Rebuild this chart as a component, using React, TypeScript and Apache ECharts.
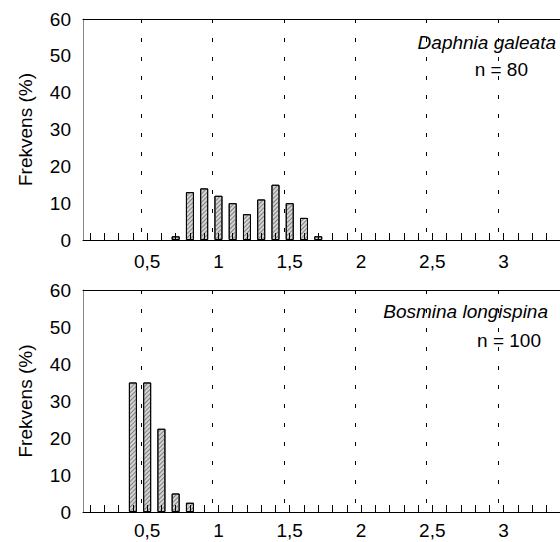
import React, { useEffect, useRef } from "react";
import * as echarts from "echarts";

const categories = [
  "0,1", "0,2", "0,3", "0,4", "0,5", "0,6", "0,7", "0,8", "0,9", "1",
  "1,1", "1,2", "1,3", "1,4", "1,5", "1,6", "1,7", "1,8", "1,9", "2",
  "2,1", "2,2", "2,3", "2,4", "2,5", "2,6", "2,7", "2,8", "2,9", "3",
  "3,1", "3,2", "3,3", "3,4", "3,5",
];
const shownTickLabels = ["0,5", "1", "1,5", "2", "2,5", "3"];

const daphniaBins = ["0,7", "0,8", "0,9", "1", "1,1", "1,2", "1,3", "1,4", "1,5", "1,6", "1,7"];
const daphniaPct = [1, 13, 14, 12, 10, 7, 11, 15, 10, 6, 1];

const bosminaBins = ["0,4", "0,5", "0,6", "0,7", "0,8"];
const bosminaPct = [35, 35, 22.5, 5, 2.5];

const dashedLinePositions = [0.46, 0.96, 1.46, 1.96, 2.46, 2.96];

const panels = [
  { title: "Daphnia galeata", n: "n = 80", bins: daphniaBins, pct: daphniaPct },
  { title: "Bosmina longispina", n: "n = 100", bins: bosminaBins, pct: bosminaPct },
];

const FONT = "Liberation Sans, Arial, sans-serif";
const FS = 19;

export default function App() {
  const ref = useRef<HTMLDivElement>(null);
  useEffect(() => {
    if (!ref.current) return;
    const chart = echarts.init(ref.current, null, { renderer: "svg" });
    const grids = [
      { left: 83, top: 19, width: 499, height: 221, outerBoundsMode: "none", containLabel: false },
      { left: 83, top: 290, width: 499, height: 222, outerBoundsMode: "none", containLabel: false },
    ];
    const xAxis: any[] = [];
    const yAxis: any[] = [];
    const series: any[] = [];
    panels.forEach((p, i) => {
      xAxis.push({
        type: "category",
        gridIndex: i,
        data: categories,
        position: "bottom",
        z: 5,
        axisLine: { show: true, lineStyle: { color: "#000", width: 1 } },
        axisTick: {
          show: true,
          inside: true,
          length: 7,
          interval: 0,
          alignWithLabel: true,
          lineStyle: { color: "#000", width: 1 },
        },
        axisLabel: {
          interval: (_idx: number, val: string) => shownTickLabels.includes(val),
          color: "#000",
          fontSize: FS,
          lineHeight: 17,
          fontFamily: FONT,
          margin: i === 0 ? 13 : 10,
        },
        splitLine: { show: false },
      });
      xAxis.push({
        type: "value",
        gridIndex: i,
        position: "top",
        min: 0.05,
        max: 3.55,
        axisLine: { show: true, lineStyle: { color: "#000", width: 1 } },
        axisTick: { show: false },
        axisLabel: { show: false },
        splitLine: { show: false },
      });
      yAxis.push({
        type: "value",
        gridIndex: i,
        min: 0,
        max: 60,
        interval: 10,
        name: "Frekvens (%)",
        nameLocation: "middle",
        nameGap: 48,
        nameTextStyle: { color: "#000", fontSize: FS, fontFamily: FONT },
        axisLine: { show: true, lineStyle: { color: "#888", width: 1 } },
        axisTick: { show: false },
        axisLabel: { color: "#000", fontSize: FS, fontFamily: FONT, margin: 12 },
        splitLine: { show: false },
      });
      series.push({
        type: "bar",
        xAxisIndex: i * 2,
        yAxisIndex: i,
        barWidth: 8,
        data: categories.map((c) => {
          const k = p.bins.indexOf(c);
          return k >= 0 ? p.pct[k] : null;
        }),
        itemStyle: {
          color: "#d4d4d4",
          borderColor: "#000",
          borderWidth: 1,
          decal: {
            symbol: "rect",
            symbolSize: 1,
            dashArrayX: [1, 0],
            dashArrayY: [1, 1.5],
            rotation: -Math.PI / 4,
            color: "#808080",
          },
        },
      });
      series.push({
        type: "line",
        xAxisIndex: i * 2 + 1,
        yAxisIndex: i,
        data: [],
        markLine: {
          silent: true,
          symbol: ["none", "none"],
          label: { show: false },
          lineStyle: { type: [4, 15], color: "#000", width: 1 },
          data: dashedLinePositions.map((v) => [
            { coord: [v, 60] },
            { coord: [v, 0] },
          ]),
        },
      });
    });
    chart.setOption({
      animation: false,
      textStyle: { fontFamily: FONT },
      grid: grids,
      xAxis,
      yAxis,
      series,
      graphic: [
        {
          type: "text",
          right: 4,
          top: 33,
          style: { text: panels[0].title, font: `italic ${FS}px ${FONT}`, fill: "#000" },
        },
        {
          type: "text",
          right: 32,
          top: 60,
          style: { text: panels[0].n, font: `${FS}px ${FONT}`, fill: "#000" },
        },
        {
          type: "text",
          right: 12,
          top: 302,
          style: { text: panels[1].title, font: `italic ${FS}px ${FONT}`, fill: "#000" },
        },
        {
          type: "text",
          right: 19,
          top: 331,
          style: { text: panels[1].n, font: `${FS}px ${FONT}`, fill: "#000" },
        },
      ],
    });
    return () => chart.dispose();
  }, []);
  return (
    <div
      ref={ref}
      style={{ position: "absolute", left: 0, top: 0, width: 560, height: 542, overflow: "hidden" }}
    />
  );
}
